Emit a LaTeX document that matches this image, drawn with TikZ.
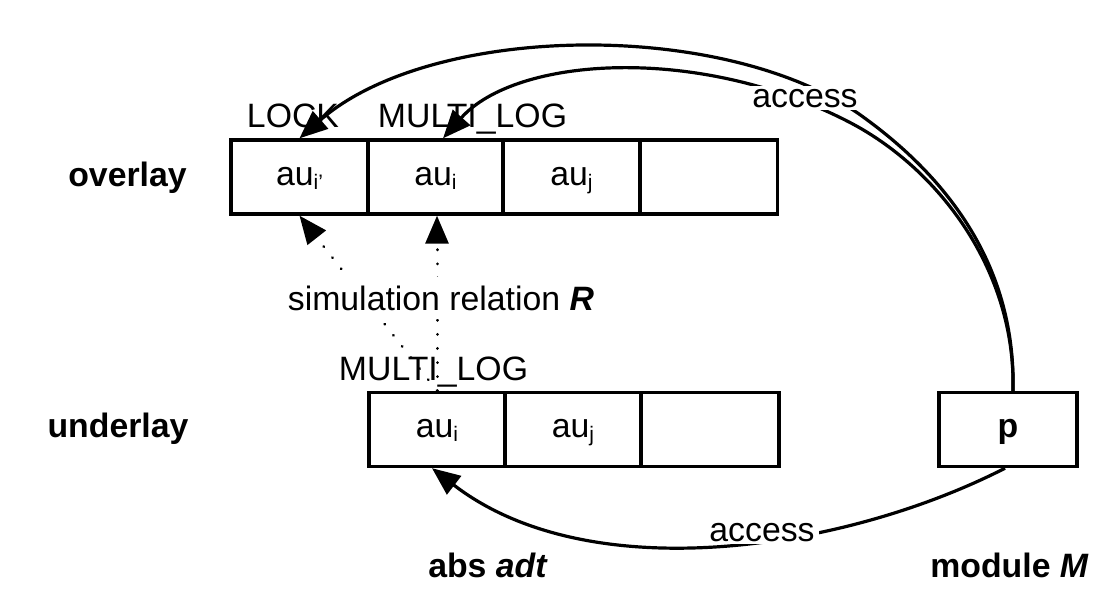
\documentclass[tikz,border=0pt]{standalone}
\usepackage{fontspec}
\setmainfont{Liberation Sans}
\usetikzlibrary{arrows.meta}
\newcommand{\mysub}[1]{\raisebox{-4pt}{\fontsize{21}{21}\selectfont #1}}
\begin{document}
\begin{tikzpicture}[x=1pt,y=-1pt,
  txt/.style={font=\fontsize{33.8}{40}\selectfont, inner sep=0pt},
  cell/.style={draw, line width=3.4pt, minimum height=74pt, inner sep=0pt,
    font=\fontsize{33.8}{40}\selectfont, text height=17pt, text depth=1pt},
  conn/.style={line width=3.2pt, -{Triangle[length=28pt,width=23pt]}},
  dots/.style={line width=3pt, line cap=round, dash pattern=on 0.1pt off 14pt,
    -{Triangle[length=28pt,width=23pt]}},
  lbl/.style={txt, fill=white, inner xsep=4pt, inner ysep=3pt}]
\useasboundingbox (0,0) rectangle (1119,613);
% overlay cells
\node[cell, minimum width=137pt] (o1) at (299.5,177) {au\mysub{i'}};
\node[cell, minimum width=135pt] (o2) at (435.5,177) {au\mysub{i}};
\node[cell, minimum width=137pt] (o3) at (571.5,177) {au\mysub{j}};
\node[cell, minimum width=137pt] (o4) at (709,177) {};
% underlay cells
\node[cell, minimum width=136pt] (u1) at (437,429.5) {au\mysub{i}};
\node[cell, minimum width=136pt] (u2) at (573,429.5) {au\mysub{j}};
\node[cell, minimum width=138pt] (u3) at (710,429.5) {};
% module p
\node[cell, minimum width=138pt] (p) at (1008,429.5) {\textbf{p}};
% side labels
\node[txt, anchor=base] (ovl) at (127.5,186) {\textbf{overlay}};
\node[txt, anchor=base] (unl) at (118,437) {\textbf{underlay}};
\node[txt, anchor=base] (abs) at (488,577) {\textbf{abs \textit{adt}}};
\node[txt, anchor=base] (mod) at (1009.5,577) {\textbf{module \textit{M}}};
% dotted simulation arrows
\draw[dots] (u1.north) -- (o1.south);
\draw[dots] (u1.north) -- (u1.north |- o2.south);
% access arrows
\draw[conn] ([xshift=5pt]p.north) .. controls (1016,260) and (941,172) .. (859,114)
  .. controls (720,18) and (430,24) .. (o1.north);
\draw[conn] ([xshift=5pt]p.north) .. controls (1016,270) and (938,168) .. (849,122)
  .. controls (698,44) and (516,56.5) .. ([xshift=7.5pt]o2.north);
\draw[conn] ([xshift=-3pt]p.south) .. controls (845,550) and (590,590) .. ([xshift=-5pt]u1.south);
% labels
\node[txt, anchor=base] (lock) at (293,127) {LOCK};
\node[txt, anchor=base] (ml1) at (472.5,127) {MULTI\_LOG};
\node[txt, anchor=base] (ml2) at (433.5,380) {MULTI\_LOG};
\node[lbl, anchor=base, inner ysep=9pt] (sim) at (441,310) {simulation relation \textbf{\textit{R}}};
\node[lbl, anchor=base] (acc1) at (805,107) {access};
\node[lbl, anchor=base] (acc2) at (762,541) {access};
\end{tikzpicture}
\end{document}
